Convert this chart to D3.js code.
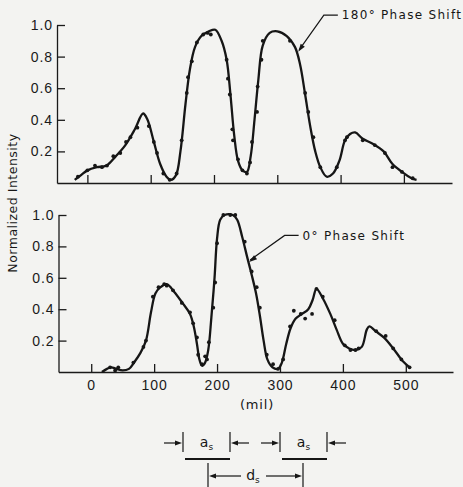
<!doctype html>
<html>
<head>
<meta charset="UTF-8" />
<script src="https://cdn.jsdelivr.net/npm/d3@7"></script>
<style>
  body { margin: 0; background: #f3f3f1; }
  svg { display: block; font-family: "DejaVu Sans", sans-serif; }
  .axis path, .axis line { stroke: #1a1a1a; stroke-width: 1.3; }
  .axis text { fill: #1a1a1a; font-size: 14px; letter-spacing: 0.9px; }
</style>
</head>
<body>
<svg id="chart" width="463" height="487"></svg>
<script>
// ---- data (mil, normalized intensity) ----
const xTicks = [0, 100, 200, 300, 400, 500];
const yTicks = [0.2, 0.4, 0.6, 0.8, 1.0];

// 180 deg phase shift: smooth curve and measured points
const curve180 = [[-20,0.02],[-10,0.05],[0,0.08],[15,0.10],[30,0.11],[45,0.17],[60,0.24],[75,0.34],[88,0.44],
  [95,0.40],[105,0.26],[115,0.12],[125,0.04],[132,0.02],[140,0.05],[147,0.20],[155,0.50],[162,0.72],[170,0.86],
  [180,0.93],[192,0.96],[202,0.97],[212,0.90],[220,0.78],[226,0.56],[232,0.30],[238,0.14],[245,0.08],[252,0.07],
  [258,0.17],[264,0.40],[270,0.65],[277,0.87],[288,0.95],[300,0.96],[315,0.93],[328,0.86],[336,0.75],[344,0.56],
  [352,0.36],[360,0.20],[368,0.10],[378,0.04],[388,0.06],[398,0.14],[407,0.27],[415,0.31],[423,0.32],[435,0.28],
  [450,0.25],[468,0.20],[482,0.12],[497,0.07],[512,0.03],[520,0.02]];
const points180 = [[-15,0.04],[0,0.08],[12,0.11],[23,0.10],[31,0.11],[41,0.17],[52,0.19],[61,0.26],[68,0.29],
  [79,0.35],[97,0.36],[105,0.26],[110,0.19],[120,0.06],[130,0.02],[141,0.06],[149,0.27],[157,0.57],[159,0.67],
  [165,0.77],[173,0.89],[183,0.94],[190,0.95],[195,0.94],[220,0.78],[222,0.66],[225,0.56],[229,0.34],[230,0.27],
  [238,0.15],[245,0.08],[252,0.06],[257,0.13],[260,0.26],[268,0.45],[269,0.61],[275,0.78],[277,0.90],[320,0.90],
  [344,0.57],[349,0.45],[357,0.29],[368,0.10],[394,0.10],[407,0.27],[410,0.29],[435,0.27],[454,0.24],[470,0.19],
  [482,0.10],[497,0.07],[514,0.03]];

// 0 deg phase shift
const curve0 = [[17,0.0],[25,0.02],[32,0.03],[40,0.02],[50,0.01],[60,0.02],[68,0.06],[78,0.12],[87,0.20],[95,0.38],
  [102,0.50],[110,0.54],[120,0.56],[132,0.51],[145,0.44],[157,0.37],[163,0.29],[168,0.18],[172,0.08],[176,0.04],
  [181,0.06],[186,0.14],[191,0.35],[196,0.60],[200,0.85],[205,0.97],[212,1.0],[225,1.0],[232,0.97],[240,0.86],
  [248,0.73],[255,0.62],[262,0.50],[268,0.36],[274,0.20],[280,0.08],[288,0.03],[297,0.02],[303,0.06],[310,0.18],
  [317,0.28],[325,0.34],[335,0.37],[345,0.40],[352,0.46],[358,0.53],[368,0.47],[380,0.37],[390,0.27],[400,0.18],
  [410,0.15],[420,0.14],[430,0.16],[438,0.27],[442,0.29],[452,0.26],[465,0.22],[480,0.15],[495,0.07],[506,0.03]];
const points0 = [[30,0.03],[38,0.01],[43,0.03],[67,0.06],[83,0.16],[87,0.20],[98,0.48],[107,0.54],[116,0.56],
  [120,0.55],[130,0.52],[144,0.44],[157,0.38],[162,0.31],[168,0.22],[170,0.11],[176,0.05],[181,0.10],[184,0.08],
  [187,0.19],[194,0.41],[197,0.57],[200,0.82],[210,1.0],[221,1.0],[229,1.0],[244,0.83],[255,0.64],[263,0.54],
  [268,0.41],[279,0.11],[289,0.05],[297,0.02],[305,0.08],[316,0.29],[322,0.39],[333,0.37],[340,0.34],[351,0.37],
  [358,0.53],[368,0.48],[387,0.33],[403,0.17],[412,0.14],[420,0.14],[425,0.15],[453,0.26],[468,0.23],[480,0.15],
  [493,0.08],[506,0.03]];

// ---- layout ----
const svg = d3.select("#chart");
const ink = "#161616";

const panels = [
  { curve: curve180, points: points180, xDom: [-48, 576], xRange: [57, 452], yRange: [183, 25], labels: false,
    note: "180° Phase Shift", tip: [333, 0.83], textAt: [402, 1.063] },
  { curve: curve0, points: points0, xDom: [-52, 575], xRange: [58.5, 453], yRange: [372, 215], labels: true,
    note: "0° Phase Shift", tip: [251, 0.70], textAt: [336, 0.87] }
];

const arrowHead = function(g, tx, ty, ang, len, wid) {
  // filled triangle with its tip at (tx,ty) pointing along angle ang
  const bx = tx - len * Math.cos(ang), by = ty - len * Math.sin(ang);
  const px = -Math.sin(ang) * wid / 2, py = Math.cos(ang) * wid / 2;
  g.append("path")
    .attr("d", `M${tx},${ty}L${bx + px},${by + py}L${bx - px},${by - py}Z`)
    .attr("fill", ink);
};

panels.forEach(function(p) {
  const x = d3.scaleLinear().domain(p.xDom).range(p.xRange);
  const y = d3.scaleLinear().domain([0, 1]).range(p.yRange);

  svg.append("g").attr("class", "axis")
    .attr("transform", `translate(0,${y(0)})`)
    .call(d3.axisBottom(x).tickValues(xTicks).tickSizeInner(-8).tickSizeOuter(0).tickPadding(8)
      .tickFormat(p.labels ? d3.format("d") : ""));

  svg.append("g").attr("class", "axis")
    .attr("transform", `translate(${p.xRange[0]},0)`)
    .call(d3.axisLeft(y).tickValues(yTicks).tickSizeInner(-8).tickSizeOuter(0).tickPadding(4)
      .tickFormat(d3.format(".1f")));

  const line = d3.line().x(d => x(d[0])).y(d => y(d[1])).curve(d3.curveCatmullRom.alpha(0.5));
  svg.append("path").datum(p.curve)
    .attr("d", line).attr("fill", "none").attr("stroke", ink).attr("stroke-width", 2.3)
    .attr("stroke-linejoin", "round");

  svg.append("g").selectAll("circle").data(p.points).join("circle")
    .attr("cx", d => x(d[0])).attr("cy", d => y(d[1])).attr("r", 1.9).attr("fill", ink);

  // leader line + arrow to the curve
  const tx = x(p.tip[0]), ty = y(p.tip[1]);
  const lx = x(p.textAt[0]), ly = y(p.textAt[1]);
  const kx = lx - 18;
  const lead = svg.append("g");
  lead.append("path").attr("d", `M${lx - 4},${ly}L${kx},${ly}L${tx + 1},${ty - 2}`)
    .attr("fill", "none").attr("stroke", ink).attr("stroke-width", 1.2);
  arrowHead(lead, tx, ty, Math.atan2(ty - ly, tx - kx), 8, 5);
  lead.append("text").attr("x", lx).attr("y", ly).attr("dy", "0.36em")
    .attr("font-size", 12).attr("letter-spacing", 1.3).attr("fill", ink).text(p.note);
});

// y title
svg.append("text").attr("transform", "translate(17,203) rotate(-90)")
  .attr("text-anchor", "middle").attr("font-size", 12.5).attr("letter-spacing", 0.5)
  .attr("fill", ink).text("Normalized Intensity");

// x unit
svg.append("text").attr("x", 257).attr("y", 409).attr("text-anchor", "middle")
  .attr("font-size", 13).attr("letter-spacing", 0.8).attr("fill", ink).text("(mil)");

// ---- slit sketch under the chart ----
const sk = svg.append("g").attr("stroke", ink).attr("fill", "none");
const slit = function(x0, x1) {
  sk.append("line").attr("x1", x0).attr("x2", x0).attr("y1", 432).attr("y2", 452).attr("stroke-width", 1.2);
  sk.append("line").attr("x1", x1).attr("x2", x1).attr("y1", 432).attr("y2", 452).attr("stroke-width", 1.2);
  sk.append("line").attr("x1", x0 - 19).attr("x2", x0 - 5).attr("y1", 443).attr("y2", 443).attr("stroke-width", 1.2);
  sk.append("line").attr("x1", x1 + 19).attr("x2", x1 + 5).attr("y1", 443).attr("y2", 443).attr("stroke-width", 1.2);
  arrowHead(svg, x0 - 1, 443, 0, 7, 5);
  arrowHead(svg, x1 + 1, 443, Math.PI, 7, 5);
  sk.append("line").attr("x1", x0 + 2).attr("x2", x1).attr("y1", 459).attr("y2", 459).attr("stroke-width", 2.2);
  const t = svg.append("text").attr("x", (x0 + x1) / 2).attr("y", 447).attr("text-anchor", "middle")
    .attr("font-size", 14).attr("fill", ink);
  t.append("tspan").text("a");
  t.append("tspan").attr("font-size", 9).attr("dy", 3).text("s");
};
slit(183, 230);
slit(280, 327);

// d_s span
sk.append("line").attr("x1", 208).attr("x2", 208).attr("y1", 463).attr("y2", 487).attr("stroke-width", 1.2);
sk.append("line").attr("x1", 303).attr("x2", 303).attr("y1", 463).attr("y2", 487).attr("stroke-width", 1.2);
sk.append("line").attr("x1", 214).attr("x2", 241).attr("y1", 476).attr("y2", 476).attr("stroke-width", 1.2);
sk.append("line").attr("x1", 266).attr("x2", 297).attr("y1", 476).attr("y2", 476).attr("stroke-width", 1.2);
arrowHead(svg, 209, 476, Math.PI, 7, 5);
arrowHead(svg, 302, 476, 0, 7, 5);
const ds = svg.append("text").attr("x", 253).attr("y", 480).attr("text-anchor", "middle")
  .attr("font-size", 14).attr("fill", ink);
ds.append("tspan").text("d");
ds.append("tspan").attr("font-size", 9).attr("dy", 3).text("s");
</script>
</body>
</html>
